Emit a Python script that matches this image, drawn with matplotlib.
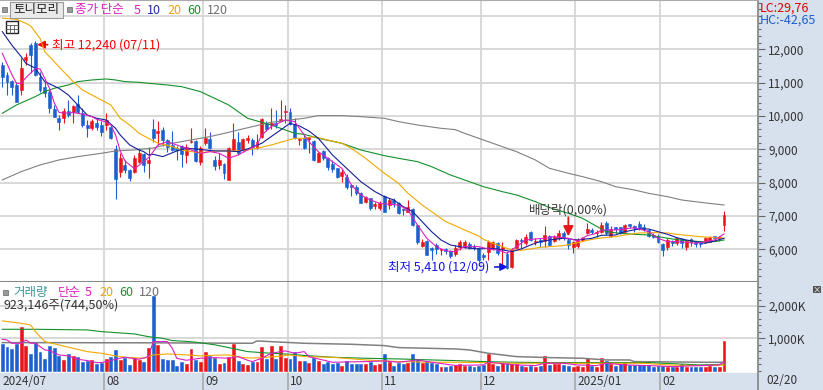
import numpy as np
import matplotlib.pyplot as plt
from matplotlib.patches import Rectangle
from matplotlib.ticker import MultipleLocator

plt.rcParams['font.family'] = ['Noto Sans CJK KR', 'DejaVu Sans']

# 일봉 (2024/07/02 ~ 2025/02/20), 가격 단위: 원
opens = [
    11530, 11230, 11050, 10930, 10780, 11680, 12130, 12180, 11180, 10880,
    10730, 10210, 9950, 9930, 10150, 10110, 10350, 10080, 9730, 9630,
    9780, 9730, 9730, 9680, 9010, 8330, 8530, 8380, 8330, 8630,
    8850, 8580, 9610, 9500, 9580, 9280, 9130, 9030, 9110, 8830,
    9210, 9250, 8610, 9180, 9300, 8680, 8530, 8550, 8080, 8980,
    9230, 9010, 9280, 9280, 9030, 9380, 9780, 9730, 9800, 9860,
    10110, 10110, 9750, 9280, 9330, 9310, 9260, 8610, 8950, 8750,
    8550, 8430, 8210, 8180, 7910, 7880, 7700, 7410, 7530, 7300,
    7230, 7600, 7330, 7480, 7380, 7200, 7130, 7210, 6730, 6110,
    6250, 6030, 6130, 5980, 6000, 5950, 5850, 6080, 6080, 6160,
    6100, 6050, 5830, 5930, 6010, 6180, 6010, 5860, 5460, 6050,
    6280, 6180, 6530, 6210, 6280, 6250, 6410, 6250, 6350, 6480,
    6280, 6080, 6110, 6280, 6480, 6580, 6480, 6510, 6780, 6410,
    6660, 6660, 6530, 6750, 6710, 6750, 6680, 6580, 6430, 6410,
    6160, 6080, 6250, 6180, 6310, 6080, 6300, 6210, 6210, 6230,
    6230, 6380, 6330, 6730]
highs = [
    11630, 11330, 11080, 11030, 11730, 11880, 12180, 12240, 11330, 11030,
    10780, 10330, 10030, 10230, 10480, 10330, 10630, 10230, 9880, 9910,
    9900, 9860, 10080, 9730, 9130, 8880, 8680, 8410, 8830, 9030,
    8880, 9080, 9900, 9850, 9680, 9310, 9550, 9110, 9130, 9150,
    9650, 9280, 9110, 9630, 9510, 8810, 8880, 8580, 9080, 9780,
    9530, 9350, 9430, 9330, 9450, 9930, 9850, 10230, 10180, 10480,
    10330, 10230, 9930, 9330, 9430, 9380, 9280, 8930, 8980, 8780,
    8680, 8450, 8410, 8250, 7950, 7930, 7730, 7610, 7550, 7430,
    7450, 7630, 7530, 7530, 7430, 7250, 7480, 7230, 6750, 6310,
    6280, 6080, 6180, 6010, 6030, 5980, 6130, 6280, 6280, 6210,
    6160, 6080, 5880, 6280, 6250, 6210, 6230, 5930, 6050, 6310,
    6330, 6450, 6550, 6330, 6330, 6700, 6430, 6430, 6580, 6550,
    6330, 6250, 6330, 6380, 6780, 6650, 6580, 6830, 6850, 6700,
    6680, 6680, 6750, 6770, 6730, 6850, 6750, 6610, 6480, 6450,
    6180, 6330, 6280, 6350, 6350, 6280, 6350, 6250, 6250, 6370,
    6390, 6410, 6410, 7150]
lows = [
    10880, 10630, 10630, 10430, 10630, 11530, 11280, 11200, 10730, 10580,
    10080, 9980, 9580, 9780, 9980, 9780, 10080, 9680, 9380, 9580,
    9580, 9410, 9580, 9310, 7510, 8180, 8280, 8060, 8280, 8580,
    8330, 8150, 9210, 9130, 9110, 8930, 8950, 8680, 8480, 8580,
    9180, 8630, 8530, 9130, 9010, 8380, 8400, 8110, 8080, 8950,
    8830, 8950, 9180, 8830, 9000, 9350, 9550, 9600, 9630, 9850,
    9780, 9730, 9310, 9130, 9010, 8880, 8660, 8610, 8680, 8380,
    8330, 8150, 8010, 7810, 7610, 7630, 7380, 7380, 7180, 7210,
    7180, 7110, 7210, 7280, 7050, 7030, 7130, 6710, 6150, 6080,
    5830, 5680, 5850, 5830, 5850, 5750, 5810, 5980, 6050, 6010,
    5980, 5630, 5680, 5680, 5980, 5830, 5530, 5410, 5430, 6030,
    6050, 6130, 6250, 6130, 6080, 6080, 6110, 6230, 6280, 6280,
    6010, 5880, 6050, 6250, 6450, 6450, 6380, 6480, 6430, 6380,
    6480, 6450, 6510, 6630, 6530, 6580, 6550, 6370, 6330, 6200,
    5810, 5980, 6110, 6130, 6050, 5980, 6110, 6080, 6080, 6180,
    6210, 6280, 6250, 6550]
closes = [
    11180, 11030, 10880, 10430, 11430, 11780, 11830, 11230, 10780, 10680,
    10230, 9980, 9810, 10150, 10030, 10310, 10130, 9730, 9630, 9850,
    9680, 9530, 9880, 9330, 8110, 8730, 8380, 8130, 8730, 8880,
    8530, 8680, 9330, 9540, 9280, 9080, 8980, 8980, 8860, 9080,
    9250, 8650, 9050, 9330, 9030, 8510, 8680, 8280, 9030, 9310,
    8880, 9310, 9330, 9080, 9230, 9910, 9610, 9780, 9730, 9910,
    10150, 9760, 9330, 9300, 9030, 9360, 8680, 8900, 8730, 8480,
    8410, 8180, 8330, 7880, 7880, 7680, 7400, 7560, 7230, 7350,
    7400, 7110, 7480, 7380, 7080, 7170, 7280, 6730, 6230, 6230,
    5830, 5980, 6010, 6000, 5960, 5810, 6050, 6230, 6210, 6050,
    6050, 5680, 5780, 6230, 6210, 5880, 6080, 5450, 6010, 6280,
    6250, 6380, 6280, 6250, 6230, 6430, 6130, 6380, 6480, 6330,
    6130, 6210, 6280, 6350, 6610, 6530, 6530, 6730, 6480, 6600,
    6610, 6480, 6730, 6690, 6650, 6630, 6610, 6400, 6360, 6230,
    5980, 6280, 6180, 6330, 6180, 6250, 6230, 6160, 6160, 6330,
    6370, 6350, 6370, 7030]
# 거래량 (천주)
volume_k = [
    824, 741, 669, 813, 1350, 772, 504, 896, 566, 359,
    762, 710, 462, 328, 514, 462, 431, 256, 297, 328,
    204, 246, 349, 431, 638, 328, 400, 173, 400, 328,
    277, 710, 2320, 793, 359, 328, 328, 153, 277, 204,
    669, 328, 277, 586, 462, 380, 204, 246, 421, 824,
    297, 204, 173, 277, 277, 741, 349, 762, 349, 762,
    380, 349, 566, 297, 297, 246, 400, 297, 204, 256,
    204, 225, 153, 297, 204, 204, 204, 204, 277, 173,
    204, 504, 277, 153, 225, 204, 246, 504, 349, 225,
    297, 225, 204, 101, 122, 153, 184, 194, 153, 153,
    101, 153, 173, 514, 204, 153, 246, 246, 204, 204,
    153, 122, 153, 122, 153, 452, 173, 204, 204, 173,
    153, 122, 153, 122, 380, 153, 122, 400, 297, 204,
    153, 194, 256, 173, 173, 173, 173, 173, 122, 153,
    153, 122, 122, 122, 204, 122, 122, 122, 122, 122,
    153, 122, 124, 923]

# 이동평균 (차트에서 읽은 값, 봉 번호 / 값)
ma5_i = [0, 2, 3, 4, 5, 7, 8, 9, 10, 11, 12, 13, 15, 16, 17, 19, 20, 22, 23, 24,
         25, 26, 28, 29, 31, 32, 33, 35, 38, 40, 42, 44, 46, 48, 50, 52, 54, 55, 57, 60,
         62, 63, 65, 67, 69, 72, 74, 76, 78, 80, 82, 84, 86, 88, 90, 92, 94, 96, 98, 101,
         103, 105, 107, 109, 111, 113, 115, 117, 120, 122, 124, 126, 127, 130, 132, 134, 137, 139, 141, 143,
         145, 147, 149, 151, 153]
ma5_v = [11880, 11250, 10980, 10980, 11150, 11420, 11410, 11130, 10830, 10400, 10110, 10080, 10100, 10080, 10050, 9980, 9900, 9820, 9730, 9430,
         8950, 8650, 8420, 8520, 8750, 8930, 9130, 9230, 9080, 8980, 8880, 8930, 8880, 8730, 8830, 8980, 9130, 9430, 9680, 9880,
         9830, 9630, 9230, 8930, 8730, 8430, 7930, 7630, 7480, 7380, 7350, 7330, 7180, 6730, 6330, 6080, 5950, 5930, 6080, 6080,
         6010, 5980, 5880, 6080, 6280, 6310, 6330, 6380, 6330, 6250, 6410, 6480, 6580, 6580, 6610, 6650, 6530, 6330, 6230, 6230,
         6210, 6180, 6230, 6280, 6460]
ma10_i = [0, 2, 4, 5, 7, 8, 9, 12, 14, 16, 18, 20, 22, 24, 25, 27, 29, 30, 31, 32,
          34, 37, 39, 41, 43, 45, 48, 50, 52, 55, 57, 59, 61, 63, 65, 67, 70, 73, 76, 79,
          81, 83, 85, 87, 89, 91, 93, 95, 98, 101, 103, 105, 108, 110, 112, 114, 116, 119, 122, 125,
          127, 130, 132, 135, 137, 139, 141, 143, 145, 147, 149, 151, 153]
ma10_v = [12530, 12130, 11780, 11580, 11430, 11230, 11030, 10830, 10630, 10330, 10030, 9930, 9880, 9630, 9430, 9130, 8980, 8930, 8830, 8850,
          8780, 8950, 9030, 9010, 8980, 8950, 8950, 8930, 9010, 9180, 9380, 9580, 9780, 9700, 9550, 9330, 8830, 8430, 8030, 7730,
          7580, 7480, 7280, 7130, 6830, 6530, 6280, 6130, 6050, 6010, 6030, 6010, 5930, 6010, 6130, 6230, 6280, 6330, 6280, 6330,
          6420, 6430, 6530, 6610, 6610, 6530, 6450, 6350, 6280, 6230, 6180, 6250, 6330]
ma20_i = [0, 3, 5, 6, 8, 9, 11, 13, 15, 17, 19, 21, 23, 24, 25, 27, 29, 31, 33, 36,
          38, 41, 43, 45, 48, 51, 54, 57, 60, 62, 64, 66, 69, 72, 74, 77, 81, 84, 86, 89,
          92, 94, 96, 98, 101, 102, 104, 106, 108, 110, 112, 114, 116, 119, 122, 125, 127, 130, 132, 135,
          138, 141, 143, 145, 148, 150, 153]
ma20_v = [12940, 12900, 12780, 12700, 12330, 11930, 11630, 11330, 11030, 10780, 10630, 10480, 10330, 10130, 9930, 9730, 9480, 9330, 9180, 9080,
          8980, 8910, 8910, 8950, 8950, 8960, 9030, 9130, 9250, 9330, 9330, 9380, 9280, 9180, 9030, 8730, 8280, 7980, 7680, 7330,
          7030, 6830, 6710, 6580, 6400, 6300, 6180, 6080, 5980, 5970, 6010, 6060, 6080, 6110, 6200, 6300, 6340, 6380, 6430, 6490,
          6500, 6490, 6450, 6420, 6380, 6360, 6330]
ma60_i = [0, 3, 7, 9, 11, 14, 16, 19, 22, 24, 26, 29, 31, 35, 38, 42, 45, 48, 50, 52,
          55, 57, 60, 62, 64, 67, 72, 76, 81, 84, 88, 91, 95, 98, 102, 106, 109, 113, 116, 120,
          123, 126, 128, 131, 134, 137, 139, 142, 145, 148, 151, 153]
ma60_v = [10080, 10330, 10580, 10730, 10830, 10930, 11030, 11080, 11110, 11080, 11030, 11010, 10980, 10930, 10880, 10730, 10530, 10330, 10130, 9930,
          9810, 9730, 9580, 9480, 9450, 9330, 9180, 8980, 8810, 8730, 8630, 8480, 8230, 8080, 7880, 7730, 7630, 7430, 7250, 7080,
          6930, 6690, 6530, 6480, 6450, 6430, 6380, 6310, 6260, 6230, 6230, 6280]
ma120_i = [0, 4, 8, 12, 16, 21, 24, 28, 32, 36, 40, 44, 48, 53, 57, 61, 64, 67, 72, 76,
           81, 84, 88, 93, 96, 98, 102, 105, 109, 113, 116, 120, 123, 127, 130, 134, 137, 141, 144, 148,
           151, 153]
ma120_v = [8080, 8330, 8530, 8680, 8780, 8880, 8950, 8980, 9040, 9180, 9280, 9380, 9510, 9680, 9810, 9880, 9930, 10010, 10010, 9980,
           9930, 9830, 9730, 9630, 9590, 9480, 9280, 9130, 8930, 8680, 8430, 8280, 8180, 8030, 7880, 7780, 7680, 7580, 7480, 7410,
           7360, 7330]

# 거래량 이동평균 (천주)
vma5_i = [0, 1, 2, 4, 5, 6, 7, 9, 10, 12, 14, 16, 18, 20, 21, 23, 24, 26, 29, 31,
          32, 35, 36, 37, 39, 42, 45, 48, 50, 52, 53, 55, 57, 60, 62, 64, 65, 70, 77, 81,
          84, 88, 91, 96, 102, 103, 109, 113, 115, 119, 122, 126, 128, 132, 137, 142, 148, 152, 153]
vma5_v = [970, 949, 846, 846, 949, 846, 846, 640, 619, 485, 454, 351, 310, 248, 248, 310, 351, 413, 351, 433,
          898, 898, 700, 380, 320, 382, 402, 382, 433, 320, 279, 382, 537, 609, 537, 588, 430, 258, 279, 299,
          258, 330, 258, 160, 175, 258, 175, 155, 227, 227, 175, 155, 227, 175, 155, 124, 155, 175, 279]
vma20_i = [0, 4, 6, 7, 9, 12, 15, 18, 21, 24, 26, 30, 32, 35, 39, 42, 45, 48, 51, 53,
           55, 58, 61, 64, 70, 77, 84, 91, 96, 102, 109, 116, 123, 130, 136, 141, 148, 153]
vma20_v = [1540, 1465, 1413, 1207, 898, 795, 691, 588, 537, 454, 413, 382, 485, 516, 485, 454, 475, 485, 402, 390,
           402, 433, 485, 433, 413, 330, 279, 258, 258, 248, 227, 227, 227, 227, 227, 175, 155, 175]
vma60_i = [0, 7, 18, 21, 28, 31, 34, 36, 39, 41, 45, 48, 52, 57, 61, 64, 70, 77, 84, 91,
           96, 102, 109, 116, 128, 137, 148, 153]
vma60_v = [1279, 1279, 1259, 1207, 1135, 1050, 1000, 930, 905, 880, 800, 712, 588, 537, 506, 470, 413, 382, 361, 330,
           310, 279, 258, 248, 248, 248, 175, 196]
vma120_i = [0, 32, 53, 54, 64, 74, 81, 84, 96, 99, 103, 106, 109, 116, 123, 128, 133, 134, 149, 153]
vma120_v = [867, 860, 846, 918, 846, 815, 774, 712, 671, 640, 537, 485, 433, 402, 382, 330, 330, 279, 258, 258]

month_start = [22, 43, 61, 81, 102, 122, 140]
month_label = ['08', '09', '10', '11', '12', '2025/01', '02']
first_label = '2024/07'
last_label = '02/20'
price_ticks = [6000, 7000, 8000, 9000, 10000, 11000, 12000]
vol_ticks = [1000, 2000]

# 색상
UP, DOWN = '#e8151b', '#1c5fcf'
C5, C10, C20, C60, C120 = '#dc1fc0', '#14209a', '#f2a900', '#15902c', '#808080'
GRID = '#d6d6d6'
PANEL = '#d7e1ee'

W, H = 823, 390
X0, STEP = 2.3, 4.717          # 첫 봉 위치와 봉 간격 (px)
RIGHT, SPLIT, BOTTOM = 758.3, 282.3, 372.6

fig = plt.figure(figsize=(W / 100, H / 100), dpi=100)
fig.patch.set_facecolor('white')


def fpos(x, y):
    return x / W, 1 - y / H


def frect(x, y, w, h, **kw):
    r = Rectangle((x / W, 1 - (y + h) / H), w / W, h / H, transform=fig.transFigure, **kw)
    fig.add_artist(r)
    return r


def ftext(x, y, s, **kw):
    kw.setdefault('fontsize', 9)
    kw.setdefault('va', 'center')
    kw.setdefault('ha', 'left')
    fig.text(*fpos(x, y), s, **kw)


# 오른쪽 축 영역 배경
frect(RIGHT, 0, W - RIGHT, BOTTOM, facecolor=PANEL, edgecolor='none', zorder=-1)

ax = fig.add_axes([0, 1 - SPLIT / H, RIGHT / W, SPLIT / H])
axv = fig.add_axes([0, 1 - BOTTOM / H, RIGHT / W, (BOTTOM - SPLIT) / H])
axd = fig.add_axes([0, 0, 1, 1 - BOTTOM / H])

xlo, xhi = -X0 / STEP, (RIGHT - X0) / STEP
idx = np.arange(len(closes))
o, h, l, c = map(np.array, (opens, highs, lows, closes))
col = np.where(c >= o, UP, DOWN)

# ---- 가격 ----
ax.set_xlim(xlo, xhi)
ax.set_ylim(5010, 13479)
for y in range(6000, 13001, 1000):
    ax.axhline(y, color=GRID, lw=1.3, zorder=1)
for m in month_start:
    ax.axvline(m - 0.5, color=GRID, lw=1.3, zorder=1)

ax.vlines(idx, l, h, colors=col, lw=0.8, zorder=3)
ax.bar(idx, np.maximum(np.abs(c - o), 35), bottom=np.minimum(o, c), width=0.62,
       color=col, edgecolor=col, lw=0.4, zorder=4)

ax.plot(ma120_i, ma120_v, color=C120, lw=0.8, zorder=5)
ax.plot(ma60_i, ma60_v, color=C60, lw=0.8, zorder=5)
ax.plot(ma20_i, ma20_v, color=C20, lw=0.8, zorder=5)
ax.plot(ma10_i, ma10_v, color=C10, lw=0.8, zorder=5)
ax.plot(ma5_i, ma5_v, color=C5, lw=0.8, zorder=5)

ax.yaxis.tick_right()
ax.set_yticks(price_ticks)
ax.set_yticklabels([f'{v:,}' for v in price_ticks])
ax.yaxis.set_minor_locator(MultipleLocator(200))
ax.tick_params(axis='y', which='major', length=5, width=0.8, color='#666',
               labelsize=8.5, labelcolor='#333', pad=2)
ax.tick_params(axis='y', which='minor', length=2.5, width=0.8, color='#666')
ax.set_xticks([])
ax.spines['left'].set_visible(False)
ax.spines['top'].set_color('#aaaaaa')
ax.spines['right'].set_color('#8a8a8a')
ax.spines['right'].set_linewidth(1.3)
ax.spines['bottom'].set_color('#8a8a8a')
ax.spines['bottom'].set_linewidth(1.5)

hi_i = int(np.argmax(h))
lo_i = int(np.argmin(l))
ax.annotate(f'최고 {h[hi_i]:,} (07/11)', xy=(hi_i + 0.4, 12140), xytext=(hi_i + 3.5, 12140),
            ha='left', va='center', color='#ff0000', fontsize=9,
            arrowprops=dict(arrowstyle='-|>', color='#ff0000', lw=1.2, mutation_scale=11,
                            shrinkA=1, shrinkB=0))
ax.annotate(f'최저 {l[lo_i]:,} (12/09)', xy=(lo_i + 0.2, 5470), xytext=(lo_i - 3.8, 5470),
            ha='right', va='center', color='#1414e6', fontsize=9,
            arrowprops=dict(arrowstyle='-|>', color='#1414e6', lw=1.2, mutation_scale=11,
                            shrinkA=2, shrinkB=0))
ax.text(120, 7190, '배당락(0,00%)', ha='center', va='center', color='#3a3a3a', fontsize=9, zorder=6)
ax.annotate('', xy=(120, 6390), xytext=(120, 6960),
            arrowprops=dict(arrowstyle='-|>', color=UP, lw=1.3, mutation_scale=15,
                            shrinkA=0, shrinkB=0), zorder=6)

# ---- 거래량 ----
axv.set_xlim(xlo, xhi)
axv.set_ylim(-62, 2734)
for y in vol_ticks:
    axv.axhline(y, color=GRID, lw=1.3, zorder=1)
for m in month_start:
    axv.axvline(m - 0.5, color=GRID, lw=1.3, zorder=1)
axv.bar(idx, volume_k, width=0.62, color=col, edgecolor=col, lw=0.4, zorder=3)
axv.plot(vma120_i, vma120_v, color=C120, lw=1.1, zorder=4)
axv.plot(vma60_i, vma60_v, color=C60, lw=0.8, zorder=4)
axv.plot(vma20_i, vma20_v, color=C20, lw=0.8, zorder=4)
axv.plot(vma5_i, vma5_v, color=C5, lw=0.8, zorder=4)

axv.yaxis.tick_right()
axv.set_yticks(vol_ticks)
axv.set_yticklabels([f'{v:,}K' for v in vol_ticks])
axv.yaxis.set_minor_locator(MultipleLocator(200))
axv.tick_params(axis='y', which='major', length=5, width=0.8, color='#666',
                labelsize=8.5, labelcolor='#333', pad=2)
axv.tick_params(axis='y', which='minor', length=2.5, width=0.8, color='#666')
axv.set_xticks([])
axv.spines['left'].set_visible(False)
axv.spines['top'].set_visible(False)
axv.spines['right'].set_color('#8a8a8a')
axv.spines['right'].set_linewidth(1.3)
axv.spines['bottom'].set_color('#9a9a9a')

# ---- 날짜 ----
axd.set_facecolor(PANEL)
axd.set_xlim(xlo, (W - X0) / STEP)
axd.set_ylim(0, 1)
axd.set_xticks([])
axd.set_yticks([])
for s in axd.spines.values():
    s.set_visible(False)
for m in month_start:
    axd.axvline(m - 0.5, color='#a8a8a8', lw=1.2)
axd.axvline(xhi, color='#8a8a8a', lw=1.3)
axd.text(0, 0.5, first_label, ha='left', va='center', fontsize=8.5, color='#333')
for m, lab in zip(month_start, month_label):
    axd.text(m, 0.5, lab, ha='left', va='center', fontsize=8.5, color='#333')
ftext(766, 381, last_label, fontsize=8.5, color='#333')

# ---- 범례 / 표시 ----
frect(2, 7, 5, 5, facecolor='#9a9a9a', edgecolor='#777', lw=0.6, zorder=6)
frect(10, 2, 53, 16, facecolor='#e9e9e9', edgecolor='#9a9a9a', lw=0.8, zorder=6)
ftext(36.5, 10, '토니모리', ha='center', color='#222', zorder=7)
frect(67, 7, 5, 5, facecolor='#9a9a9a', edgecolor='#777', lw=0.6, zorder=6)
ftext(75, 10, '종가 단순', color=C5)
ftext(134, 10, '5', color=C5)
ftext(147, 10, '10', color='#1f2fa5')
ftext(167, 10, '20', color='#e8a317')
ftext(187, 10, '60', color='#1b8f30')
ftext(207, 10, '120', color='#707070')

# 표 아이콘
frect(6, 21, 12, 12, facecolor='white', edgecolor='#222', lw=1.0, zorder=6)
for yy in (25, 29):
    fig.add_artist(plt.Line2D([6 / W, 18 / W], [1 - yy / H] * 2, transform=fig.transFigure,
                              color='#555', lw=0.6, zorder=7))
for xx in (10, 14):
    fig.add_artist(plt.Line2D([xx / W] * 2, [1 - 25 / H, 1 - 33 / H], transform=fig.transFigure,
                              color='#555', lw=0.6, zorder=7))

ftext(760, 8, 'LC:29,76', color='#e00000')
ftext(760, 20, 'HC:-42,65', color='#1a5fd0')

frect(3, 290, 5, 5, facecolor='#9a9a9a', edgecolor='#777', lw=0.6, zorder=6)
ftext(13, 292.5, '거래량', color='#3b9a9a')
ftext(58, 292.5, '단순', color=C5)
ftext(85, 292.5, '5', color=C5)
ftext(99, 292.5, '20', color='#e8a317')
ftext(119, 292.5, '60', color='#1b8f30')
ftext(139, 292.5, '120', color='#707070')
ftext(4, 305, f'{volume_k[-1] * 1000 + 146:,}주(744,50%)', color='#333')

frect(813, 286, 8, 7, facecolor='#555555', edgecolor='none', zorder=6)
ftext(817, 289.5, '×', ha='center', color='white', fontsize=6, zorder=7)

fig.savefig('out.png', dpi=100)
